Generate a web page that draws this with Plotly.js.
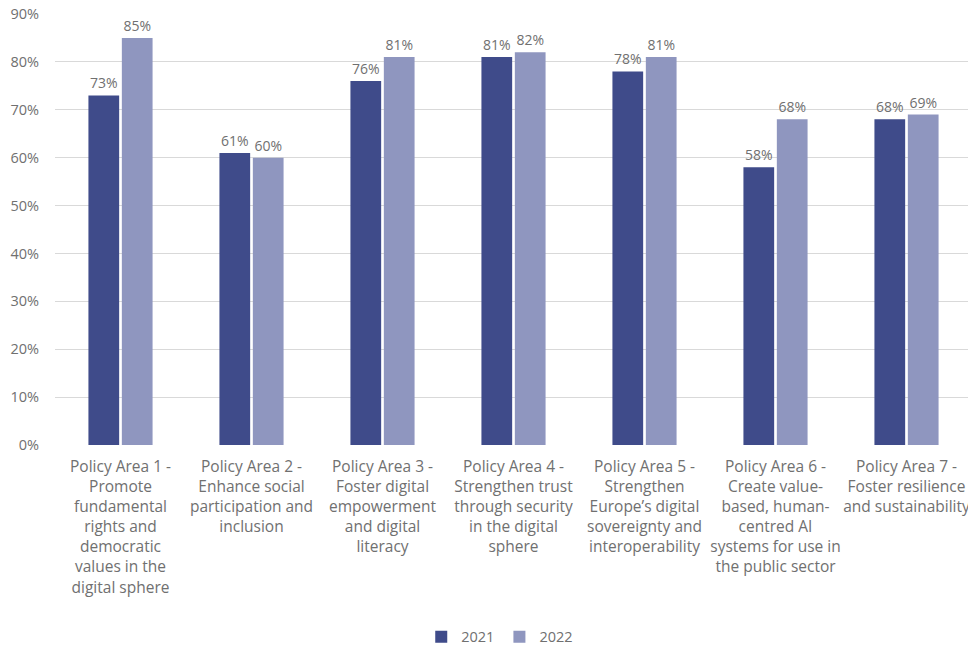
<!DOCTYPE html>
<html>
<head>
<meta charset="utf-8">
<script src="https://cdn.plot.ly/plotly-3.0.1.min.js"></script>
<style>
html,body{margin:0;padding:0;overflow:hidden;background:#fff;}
#chart{width:972px;height:645px;}
</style>
</head>
<body>
<div id="chart"></div>
<script>
const categories = [
  "Policy Area 1 -<br>Promote<br>fundamental<br>rights and<br>democratic<br>values in the<br>digital sphere",
  "Policy Area 2 -<br>Enhance social<br>participation and<br>inclusion",
  "Policy Area 3 -<br>Foster digital<br>empowerment<br>and digital<br>literacy",
  "Policy Area 4 -<br>Strengthen trust<br>through security<br>in the digital<br>sphere",
  "Policy Area 5 -<br>Strengthen<br>Europe’s digital<br>sovereignty and<br>interoperability",
  "Policy Area 6 -<br>Create value-<br>based, human-<br>centred AI<br>systems for use in<br>the public sector",
  "Policy Area 7 -<br>Foster resilience<br>and sustainability"
];
const values2021 = [0.73, 0.61, 0.76, 0.81, 0.78, 0.58, 0.68];
const values2022 = [0.85, 0.60, 0.81, 0.82, 0.81, 0.68, 0.69];
const seriesNames = ["2021", "2022"];
const yTickVals = [0, 0.1, 0.2, 0.3, 0.4, 0.5, 0.6, 0.7, 0.8, 0.9];

const fontFam = "Open Sans, Liberation Sans, sans-serif";
const grey = "#707070";

const traces = [
  {type:"bar", name:seriesNames[0], x:categories, y:values2021,
   marker:{color:"#3f4b8a"}, text:values2021.map(v=>Math.round(v*100)+"%"),
   textposition:"outside", textfont:{size:14,color:grey,family:fontFam}, cliponaxis:false, hoverinfo:"none"},
  {type:"bar", name:seriesNames[1], x:categories, y:values2022,
   marker:{color:"#8f96bf"}, text:values2022.map(v=>Math.round(v*100)+"%"),
   textposition:"outside", textfont:{size:14,color:grey,family:fontFam}, cliponaxis:false, hoverinfo:"none"}
];

const layout = {
  width:972, height:645,
  margin:{l:55, r:0, t:14, b:200, autoexpand:false},
  paper_bgcolor:"#fff", plot_bgcolor:"#fff",
  barmode:"group", bargap:0.49, bargroupgap:0.08,
  font:{family:fontFam, color:grey, size:14},
  xaxis:{tickfont:{size:15.5,color:grey,family:fontFam}, ticks:"outside", ticklen:7, tickcolor:"rgba(0,0,0,0)",
         showline:false, showgrid:false, tickangle:0, automargin:false},
  yaxis:{range:[0,0.9], tickvals:yTickVals, tickformat:".0%", gridcolor:"#d9d9d9", gridwidth:1,
         zeroline:false, showline:false, tickfont:{size:14.5,color:grey,family:fontFam}, ticks:"", ticklabelstandoff:15, automargin:false},
  showlegend:true,
  legend:{orientation:"h", x:0.485, xanchor:"center", y:-0.445, yanchor:"middle",
          font:{size:14.5,color:grey,family:fontFam}, itemwidth:30, traceorder:"normal"}
};

Plotly.newPlot("chart", traces, layout, {displayModeBar:false, staticPlot:true});
</script>
</body>
</html>
